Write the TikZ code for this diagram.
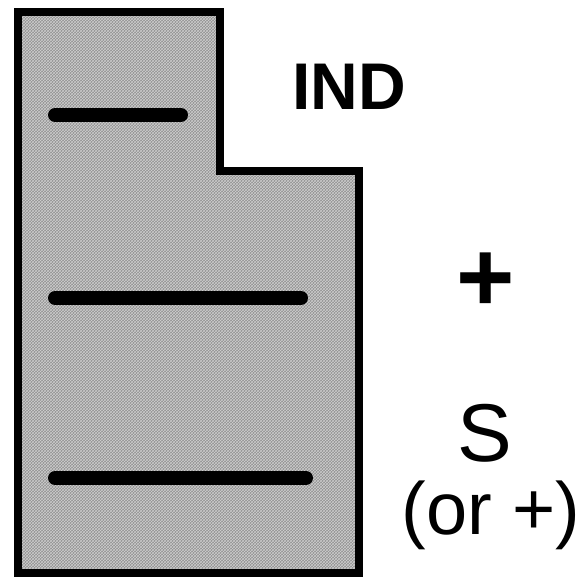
\documentclass[tikz,border=0pt]{standalone}
\usepackage{fontspec}
\setmainfont{Liberation Sans}
\usetikzlibrary{patterns}
\definecolor{hatchgray}{RGB}{145,145,145}
\definecolor{hatchlight}{RGB}{205,205,205}
\tikzset{
  plate/.style={line width=8pt, draw=black, line join=miter, fill=hatchgray},
  platehatch/.style={pattern=crosshatch, pattern color=hatchlight},
  bar/.style={line width=14pt, line cap=round, draw=black},
  lbl/.style={inner sep=0pt, font=\fontsize{#1}{#1}\selectfont}
}
\begin{document}
\begin{tikzpicture}[x=1pt,y=-1pt]
\useasboundingbox (0,0) rectangle (584,577);
\coordinate (p1) at (18,12);
\coordinate (p2) at (220,12);
\coordinate (p3) at (220,171);
\coordinate (p4) at (359,171);
\coordinate (p5) at (359,573);
\coordinate (p6) at (18,573);
\path[plate] (p1) -- (p2) -- (p3) -- (p4) -- (p5) -- (p6) -- cycle;
\fill[platehatch] (p1) -- (p2) -- (p3) -- (p4) -- (p5) -- (p6) -- cycle;
\draw[line width=8pt, line join=miter] (p1) -- (p2) -- (p3) -- (p4) -- (p5) -- (p6) -- cycle;
\coordinate (a1) at (55,115);
\coordinate (b1) at (181,115);
\coordinate (a2) at (55,298);
\coordinate (b2) at (301,298);
\coordinate (a3) at (55,478);
\coordinate (b3) at (306,478);
\draw[bar] (a1) -- (b1);
\draw[bar] (a2) -- (b2);
\draw[bar] (a3) -- (b3);
\node[lbl=66] (ind) at (349,87) {\bfseries IND};
\node[lbl=100] (plus) at (486,282) {\bfseries +};
\node[lbl=82] (s) at (485,433) {S};
\node[lbl=74] (or) at (491,515) {(or +)};
\end{tikzpicture}
\end{document}
